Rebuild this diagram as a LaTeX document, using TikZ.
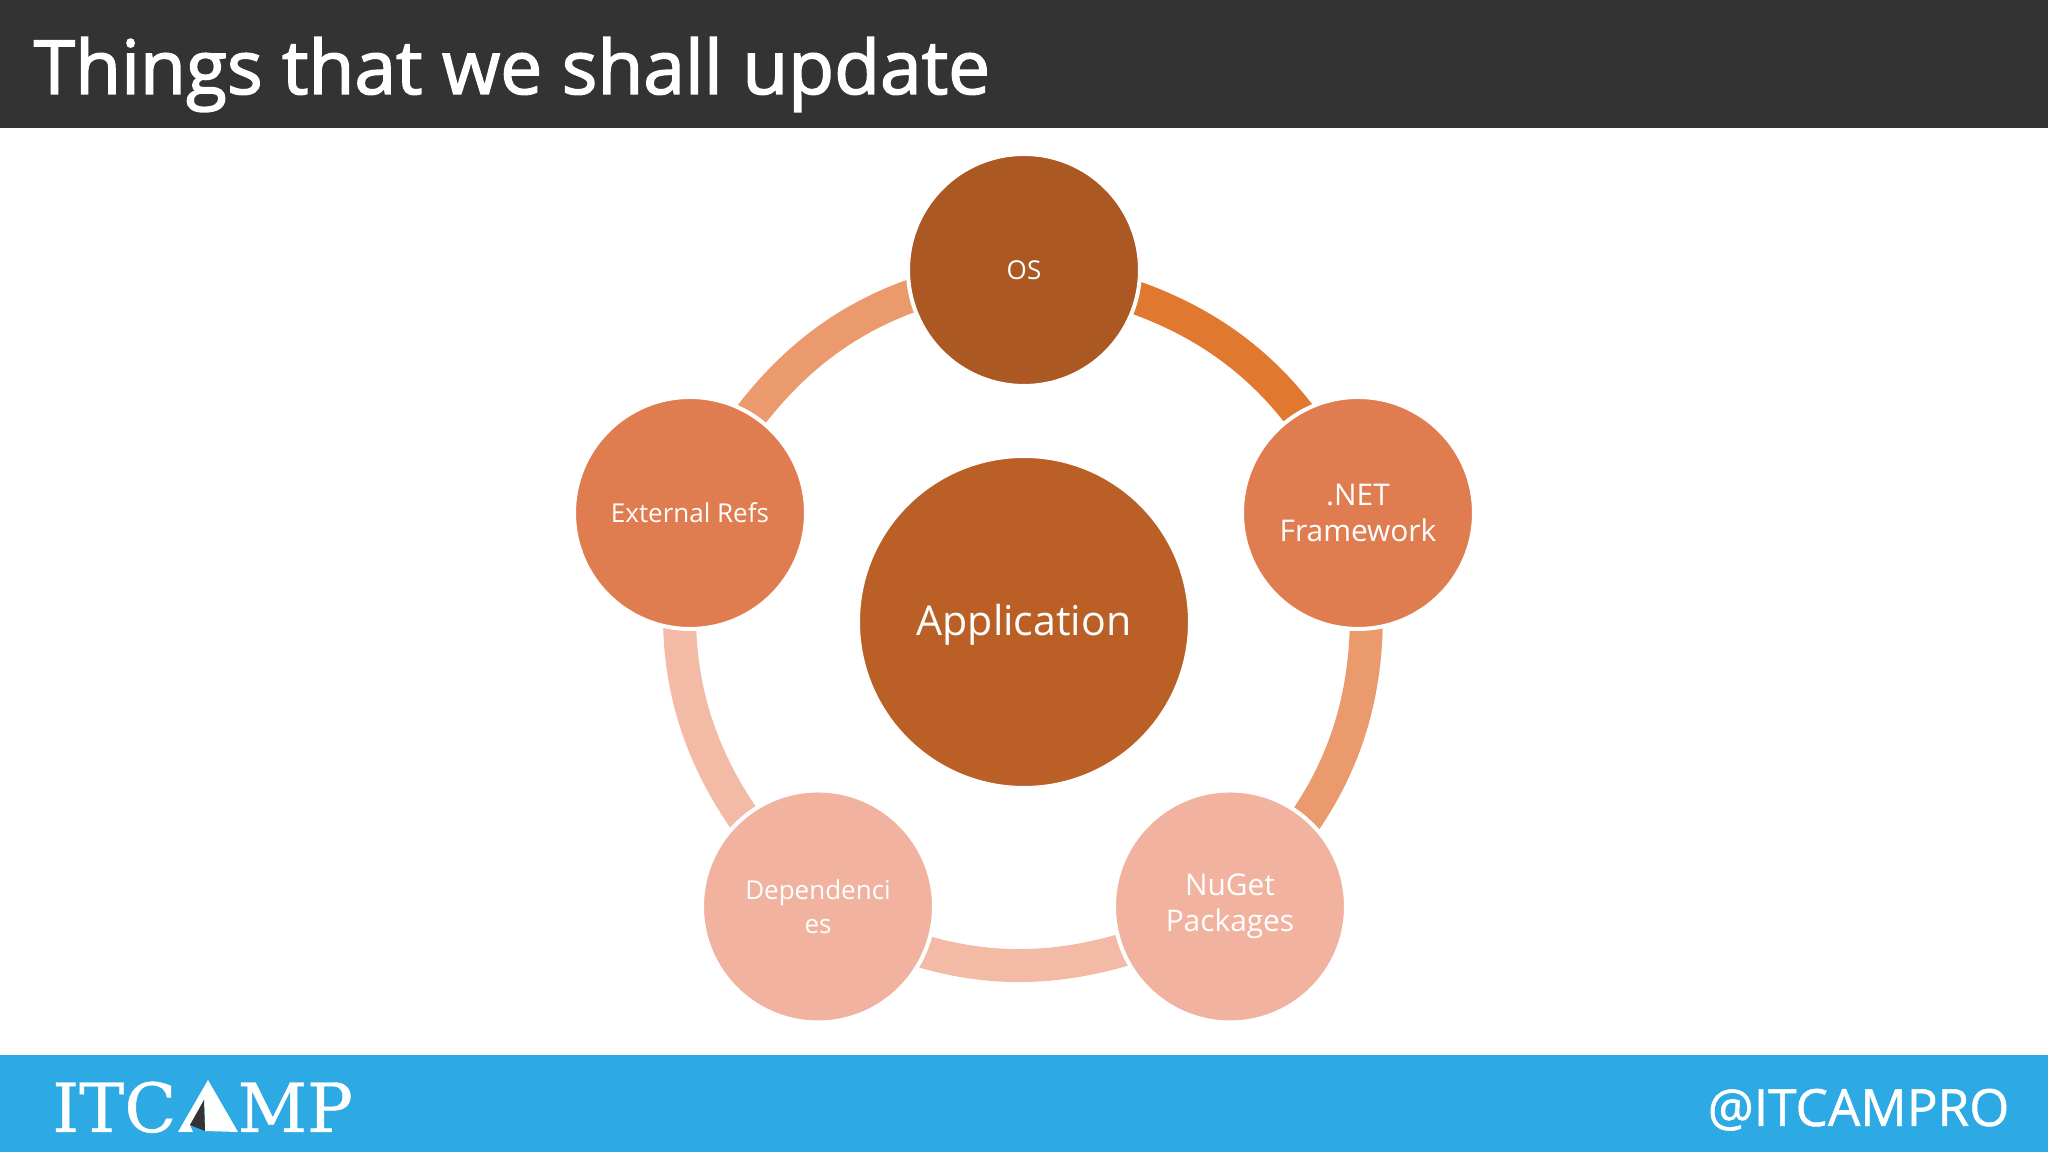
\documentclass[tikz,border=0pt]{standalone}
\usepackage{fontspec}
\setmainfont{Open Sans}
\newfontfamily\logofont[FakeBold=0.6]{DejaVu Serif}
\newfontfamily\headfont[FakeBold=2]{Open Sans}
\newfontfamily\handlefont[FakeBold=1]{Open Sans}
\usetikzlibrary{backgrounds}
\definecolor{headgrey}{HTML}{333333}
\definecolor{footblue}{HTML}{2DA9E3}
\definecolor{appbrown}{HTML}{BA6027}
\definecolor{osbrown}{HTML}{AB5822}
\definecolor{midorange}{HTML}{E07D50}
\definecolor{paleorange}{HTML}{F1B39F}
\definecolor{ringa}{HTML}{E1782F}
\definecolor{ringb}{HTML}{EB9A6E}
\definecolor{ringc}{HTML}{F3BBA6}
\definecolor{shard}{HTML}{333333}
\tikzset{
  blob/.style={circle,draw=white,line width=0.04cm,inner sep=0pt,minimum size=2.32cm,
    text=white,align=center,font=\fontsize{7.4}{9.7}\selectfont},
  ringarc/.style={line width=0.33cm,looseness=0.87,shorten <=-0.08cm,shorten >=-0.08cm},
}

\begin{document}
\begin{tikzpicture}
\useasboundingbox (0,0) rectangle (20.48,11.52);
\fill[headgrey] (0,10.24) rectangle (20.48,11.52);
\fill[footblue] (0,0) rectangle (20.48,0.97);
\node[anchor=base west,inner sep=0pt,text=white,font=\headfont\fontsize{21.3}{26}\selectfont] (title) at (0.33,10.58) {Things that we shall update};
%circles
\node[blob,fill=appbrown,minimum size=3.32cm,text depth=0.05cm,font=\fontsize{11.7}{15}\selectfont] (app) at (10.24,5.30) {Application};
\node[blob,fill=osbrown] (os) at (10.24,8.82) {OS};
\node[blob,fill=midorange,font=\fontsize{8.5}{10.4}\selectfont] (net) at (13.58,6.39) {.NET\\Framework};
\node[blob,fill=paleorange,font=\fontsize{8.5}{10.4}\selectfont] (nuget) at (12.30,2.455) {NuGet\\Packages};
\node[blob,fill=paleorange] (dep) at (8.18,2.455) {Dependenci\\es};
\node[blob,fill=midorange] (ext) at (6.90,6.39) {External Refs};
%ring
\begin{scope}[on background layer]
\draw[ringarc,ringa] (os.-14) to[out=-19,in=127] (net.121);
\draw[ringarc,ringb] (net.-86) to[out=-91,in=55] (nuget.49);
\draw[ringarc,ringc] (nuget.-158) to[out=-163,in=-17] (dep.-23);
\draw[ringarc,ringc] (dep.130) to[out=125,in=-89] (ext.-95);
\draw[ringarc,ringb] (ext.58) to[out=53,in=-161] (os.193);
\end{scope}
%footer
\node[anchor=base east,inner sep=0pt,text=white,font=\handlefont\fontsize{14.6}{17}\selectfont] (handle) at (20.10,0.26) {@ITCAMPRO};
\node[anchor=base east,inner sep=0pt,text=white,font=\logofont\fontsize{19.3}{22}\selectfont] (itc) at (1.77,0.20) {ITC};
\node[anchor=base west,inner sep=0pt,text=white,font=\logofont\fontsize{19.3}{22}\selectfont] (mp) at (2.37,0.20) {MP};
\fill[white] (2.08,0.72) -- (2.38,0.20) -- (2.05,0.21) -- (2.04,0.52) -- (1.90,0.27) -- (1.93,0.20) -- (1.78,0.20) -- cycle;
\fill[shard] (2.04,0.52) -- (1.90,0.27) -- (2.05,0.21) -- cycle;
\end{tikzpicture}
\end{document}
